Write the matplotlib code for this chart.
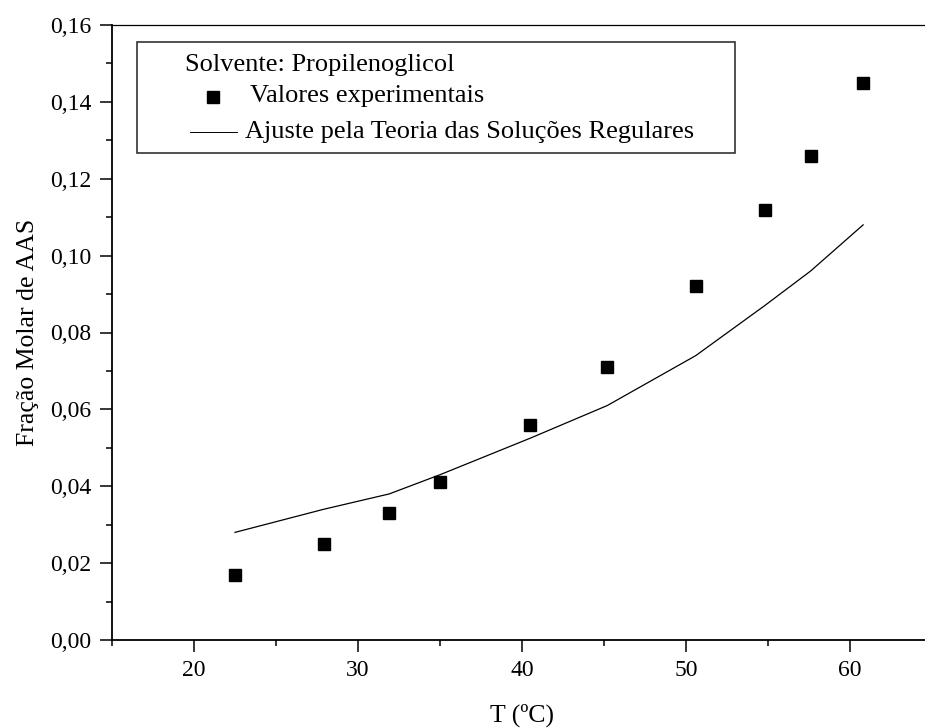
import matplotlib
matplotlib.use("Agg")
import matplotlib.pyplot as plt
from matplotlib.patches import Rectangle
from matplotlib.lines import Line2D
from matplotlib.ticker import FuncFormatter, MultipleLocator

# Dados
temp_exp = [22.5, 27.9, 31.9, 35.0, 40.5, 45.2, 50.6, 54.8, 57.6, 60.8]
frac_exp = [0.017, 0.025, 0.033, 0.041, 0.056, 0.071, 0.092, 0.112, 0.126, 0.145]
frac_ajuste = [0.028, 0.034, 0.038, 0.043, 0.0525, 0.061, 0.074, 0.087, 0.096, 0.108]

plt.rcParams['font.family'] = ['Liberation Serif', 'DejaVu Serif']
plt.rcParams['font.size'] = 17

W, H = 925, 728
fig = plt.figure(figsize=(W / 100, H / 100), dpi=100)

# eixo posicionado em pixels (a borda direita fica fora da imagem)
ax = fig.add_axes([112 / W, 1 - 640 / H, 820 / W, 615 / H])

ax.plot(temp_exp, frac_ajuste, color='black', linewidth=0.9)
ax.plot(temp_exp, frac_exp, linestyle='none', marker='s', markersize=8.6,
        color='black')

ax.set_xlim(15, 65)
ax.set_ylim(0, 0.16)
ax.xaxis.set_major_locator(MultipleLocator(10))
ax.xaxis.set_minor_locator(MultipleLocator(5))
ax.yaxis.set_major_locator(MultipleLocator(0.02))
ax.yaxis.set_minor_locator(MultipleLocator(0.01))
ax.yaxis.set_major_formatter(FuncFormatter(lambda v, p: f"{v:.2f}".replace('.', ',')))

ax.tick_params(which='both', direction='out', top=False, right=False, width=1.1)
ax.tick_params(which='major', length=8.6, labelsize=17, pad=6)
ax.tick_params(which='minor', length=4.3)

for s in ['left', 'bottom']:
    ax.spines[s].set_linewidth(1.3)
ax.spines['top'].set_linewidth(0.9)

ax.set_xlabel('T (ºC)', fontsize=18.5, labelpad=16)
ax.set_ylabel('Fração Molar de AAS', fontsize=18.5, labelpad=8)

# legenda desenhada à mão
def fx(px):
    return px / W

def fy(py):
    return 1 - py / H

fig.add_artist(Rectangle((fx(137), fy(153)), fx(735) - fx(137), fy(42.3) - fy(153),
                         transform=fig.transFigure, fill=False,
                         edgecolor='#333333', linewidth=1.2))
fig.text(fx(185), fy(65), 'Solvente: Propilenoglicol', va='center', fontsize=19)
fig.add_artist(Line2D([fx(213)], [fy(97)], transform=fig.transFigure,
                      marker='s', markersize=8.6, color='black', linestyle='none'))
fig.text(fx(250), fy(96), 'Valores experimentais', va='center', fontsize=19)
fig.add_artist(Line2D([fx(190), fx(237)], [fy(132), fy(132)],
                      transform=fig.transFigure, color='black', linewidth=0.7))
fig.text(fx(245), fy(132), 'Ajuste pela Teoria das Soluções Regulares',
         va='center', fontsize=19)

fig.savefig('out.png', dpi=100)
